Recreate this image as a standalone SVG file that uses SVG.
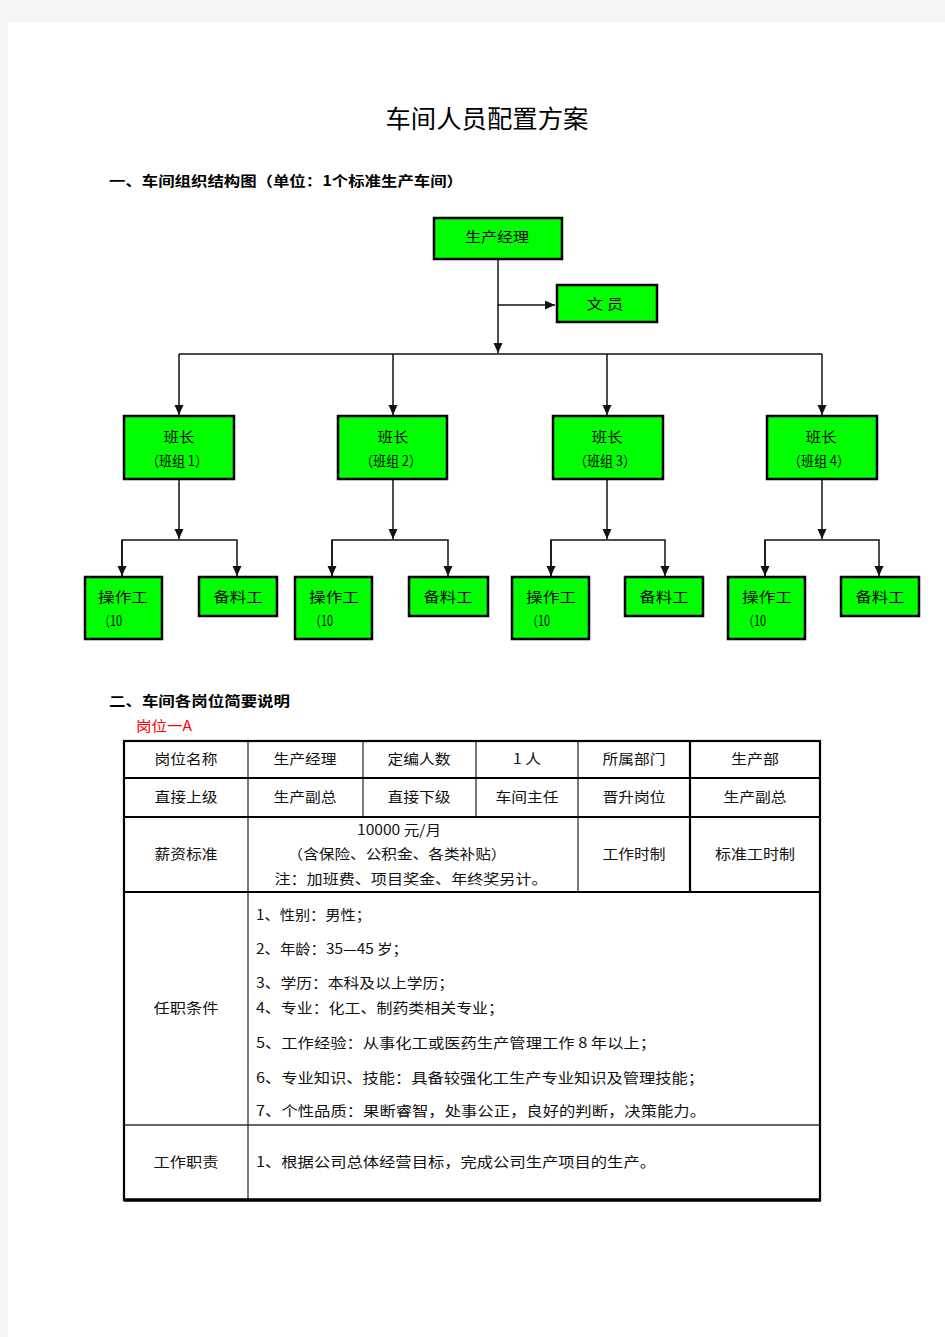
<svg xmlns="http://www.w3.org/2000/svg" width="945" height="1337" viewBox="0 0 945 1337">
<style>
text{font-family:"Noto Sans CJK SC","Liberation Sans",sans-serif;fill:#000}
.box{fill:#00ff00;stroke:#000;stroke-width:2.5}
.nt{font-size:14px;text-anchor:middle}
.ntl{font-size:14px}
.c{fill:none;stroke:#111;stroke-width:1.5}
.h{font-size:14px;font-weight:bold}
.tt{font-size:14px;text-anchor:middle;fill:#111}
.tl{font-size:14px;fill:#111}
.thick{stroke:#000;stroke-width:2.2;fill:none}
.thin{stroke:#333;stroke-width:1.3;fill:none}
</style>
<defs>
<marker id="ah" markerUnits="userSpaceOnUse" markerWidth="10" markerHeight="10" refX="10" refY="4.5" orient="auto">
<path d="M0,0 L10,4.5 L0,9 z" fill="#111"/>
</marker>
</defs>
<rect x="0" y="0" width="945" height="1337" fill="#f4f4f4"/>
<rect x="8" y="22" width="937" height="1315" fill="#fff"/>

<text x="487" y="128" font-size="25" text-anchor="middle" textLength="203" lengthAdjust="spacingAndGlyphs">车间人员配置方案</text>
<text class="h" x="109" y="186" textLength="354" lengthAdjust="spacingAndGlyphs">一、车间组织结构图（单位：1个标准生产车间）</text>

<g id="connectors">
<path class="c" d="M498,260 V353" marker-end="url(#ah)"/>
<path class="c" d="M498,305 H555" marker-end="url(#ah)"/>
<path class="c" d="M179,354 H822"/>
<path class="c" d="M179,354 V415" marker-end="url(#ah)"/>
<path class="c" d="M393,354 V415" marker-end="url(#ah)"/>
<path class="c" d="M607,354 V415" marker-end="url(#ah)"/>
<path class="c" d="M822,354 V415" marker-end="url(#ah)"/>
<path class="c" d="M179,479 V539" marker-end="url(#ah)"/>
<path class="c" d="M393,479 V539" marker-end="url(#ah)"/>
<path class="c" d="M607,479 V539" marker-end="url(#ah)"/>
<path class="c" d="M822,479 V539" marker-end="url(#ah)"/>
<path class="c" d="M122,576 V540 H237 V576" marker-end="url(#ah)"/>
<path class="c" d="M122,540 V576" marker-end="url(#ah)"/>
<path class="c" d="M332,576 V540 H448 V576" marker-end="url(#ah)"/>
<path class="c" d="M332,540 V576" marker-end="url(#ah)"/>
<path class="c" d="M551,576 V540 H665 V576" marker-end="url(#ah)"/>
<path class="c" d="M551,540 V576" marker-end="url(#ah)"/>
<path class="c" d="M765,576 V540 H879 V576" marker-end="url(#ah)"/>
<path class="c" d="M765,540 V576" marker-end="url(#ah)"/>
</g>

<g id="n-manager"><rect class="box" x="434" y="218" width="128" height="41"/><text class="nt" x="497" y="242" textLength="64" lengthAdjust="spacingAndGlyphs">生产经理</text></g>
<g id="n-clerk"><rect class="box" x="557" y="285" width="100" height="37"/><text class="nt" x="605" y="309" textLength="37" lengthAdjust="spacingAndGlyphs">文 员</text></g>

<g id="n-lead1"><rect class="box" x="124" y="416" width="110" height="63"/><text class="nt" x="179" y="442" textLength="31" lengthAdjust="spacingAndGlyphs">班长</text><text class="nt" x="177" y="466" textLength="62" lengthAdjust="spacingAndGlyphs">（班组 1）</text></g>
<g id="n-lead2"><rect class="box" x="338" y="416" width="109" height="63"/><text class="nt" x="393" y="442" textLength="31" lengthAdjust="spacingAndGlyphs">班长</text><text class="nt" x="391" y="466" textLength="62" lengthAdjust="spacingAndGlyphs">（班组 2）</text></g>
<g id="n-lead3"><rect class="box" x="553" y="416" width="110" height="63"/><text class="nt" x="607" y="442" textLength="31" lengthAdjust="spacingAndGlyphs">班长</text><text class="nt" x="605" y="466" textLength="62" lengthAdjust="spacingAndGlyphs">（班组 3）</text></g>
<g id="n-lead4"><rect class="box" x="767" y="416" width="110" height="63"/><text class="nt" x="821" y="442" textLength="31" lengthAdjust="spacingAndGlyphs">班长</text><text class="nt" x="819" y="466" textLength="62" lengthAdjust="spacingAndGlyphs">（班组 4）</text></g>

<g id="n-op1"><rect class="box" x="85" y="577" width="77" height="62"/><text class="ntl" x="98" y="602" textLength="50" lengthAdjust="spacingAndGlyphs">操作工</text><text class="ntl" x="99" y="626" textLength="23" lengthAdjust="spacingAndGlyphs">（10</text></g>
<g id="n-mat1"><rect class="box" x="199" y="577" width="78" height="39"/><text class="nt" x="238" y="602" textLength="49" lengthAdjust="spacingAndGlyphs">备料工</text></g>
<g id="n-op2"><rect class="box" x="295" y="577" width="77" height="62"/><text class="ntl" x="309" y="602" textLength="50" lengthAdjust="spacingAndGlyphs">操作工</text><text class="ntl" x="310" y="626" textLength="23" lengthAdjust="spacingAndGlyphs">（10</text></g>
<g id="n-mat2"><rect class="box" x="409" y="577" width="79" height="39"/><text class="nt" x="448" y="602" textLength="49" lengthAdjust="spacingAndGlyphs">备料工</text></g>
<g id="n-op3"><rect class="box" x="512" y="577" width="77" height="62"/><text class="ntl" x="526" y="602" textLength="50" lengthAdjust="spacingAndGlyphs">操作工</text><text class="ntl" x="527" y="626" textLength="23" lengthAdjust="spacingAndGlyphs">（10</text></g>
<g id="n-mat3"><rect class="box" x="625" y="577" width="78" height="39"/><text class="nt" x="664" y="602" textLength="49" lengthAdjust="spacingAndGlyphs">备料工</text></g>
<g id="n-op4"><rect class="box" x="728" y="577" width="77" height="62"/><text class="ntl" x="742" y="602" textLength="50" lengthAdjust="spacingAndGlyphs">操作工</text><text class="ntl" x="743" y="626" textLength="23" lengthAdjust="spacingAndGlyphs">（10</text></g>
<g id="n-mat4"><rect class="box" x="841" y="577" width="78" height="39"/><text class="nt" x="880" y="602" textLength="49" lengthAdjust="spacingAndGlyphs">备料工</text></g>

<text class="h" x="109" y="706" textLength="181" lengthAdjust="spacingAndGlyphs">二、车间各岗位简要说明</text>
<text x="136" y="731" font-size="14" fill="#ff0000" style="fill:#ff0000" textLength="56" lengthAdjust="spacingAndGlyphs">岗位一A</text>

<g id="table">
<path class="thin" d="M363,741 V817 M476,741 V817 M578,741 V892 M248,741 V1200"/>
<path class="thin" d="M124,1125 H820"/>
<path class="thick" d="M124,778 H820 M124,817 H820 M124,892 H820 M690,741 V892"/>
<rect class="thick" x="124" y="741" width="696" height="459"/>
<path d="M124,1200 H821" stroke="#000" stroke-width="3.5"/>

<text class="tt" x="186" y="764" textLength="63" lengthAdjust="spacingAndGlyphs">岗位名称</text>
<text class="tt" x="305" y="764" textLength="63" lengthAdjust="spacingAndGlyphs">生产经理</text>
<text class="tt" x="419" y="764" textLength="63" lengthAdjust="spacingAndGlyphs">定编人数</text>
<text class="tt" x="527" y="764" textLength="28" lengthAdjust="spacingAndGlyphs">1 人</text>
<text class="tt" x="634" y="764" textLength="63" lengthAdjust="spacingAndGlyphs">所属部门</text>
<text class="tt" x="755" y="764" textLength="48" lengthAdjust="spacingAndGlyphs">生产部</text>

<text class="tt" x="186" y="802" textLength="63" lengthAdjust="spacingAndGlyphs">直接上级</text>
<text class="tt" x="305" y="802" textLength="63" lengthAdjust="spacingAndGlyphs">生产副总</text>
<text class="tt" x="419" y="802" textLength="63" lengthAdjust="spacingAndGlyphs">直接下级</text>
<text class="tt" x="527" y="802" textLength="63" lengthAdjust="spacingAndGlyphs">车间主任</text>
<text class="tt" x="634" y="802" textLength="63" lengthAdjust="spacingAndGlyphs">晋升岗位</text>
<text class="tt" x="755" y="802" textLength="63" lengthAdjust="spacingAndGlyphs">生产副总</text>

<text class="tt" x="186" y="859" textLength="63" lengthAdjust="spacingAndGlyphs">薪资标准</text>
<text class="tt" x="399" y="835" textLength="84" lengthAdjust="spacingAndGlyphs">10000 元/月</text>
<text class="tt" x="397" y="859" textLength="219" lengthAdjust="spacingAndGlyphs">（含保险、公积金、各类补贴）</text>
<text class="tt" x="411" y="884" textLength="273" lengthAdjust="spacingAndGlyphs">注：加班费、项目奖金、年终奖另计。</text>
<text class="tt" x="634" y="859" textLength="63" lengthAdjust="spacingAndGlyphs">工作时制</text>
<text class="tt" x="755" y="859" textLength="80" lengthAdjust="spacingAndGlyphs">标准工时制</text>

<text class="tt" x="186" y="1013" textLength="65" lengthAdjust="spacingAndGlyphs">任职条件</text>
<text class="tl" x="256" y="920" textLength="115" lengthAdjust="spacingAndGlyphs">1、性别：男性；</text>
<text class="tl" x="256" y="954" textLength="152" lengthAdjust="spacingAndGlyphs">2、年龄：35—45 岁；</text>
<text class="tl" x="256" y="988" textLength="198" lengthAdjust="spacingAndGlyphs">3、学历：本科及以上学历；</text>
<text class="tl" x="256" y="1013" textLength="248" lengthAdjust="spacingAndGlyphs">4、专业：化工、制药类相关专业；</text>
<text class="tl" x="256" y="1048" textLength="400" lengthAdjust="spacingAndGlyphs">5、工作经验：从事化工或医药生产管理工作 8 年以上；</text>
<text class="tl" x="256" y="1083" textLength="448" lengthAdjust="spacingAndGlyphs">6、专业知识、技能：具备较强化工生产专业知识及管理技能；</text>
<text class="tl" x="256" y="1116" textLength="450" lengthAdjust="spacingAndGlyphs">7、个性品质：果断睿智，处事公正，良好的判断，决策能力。</text>

<text class="tt" x="186" y="1167" textLength="65" lengthAdjust="spacingAndGlyphs">工作职责</text>
<text class="tl" x="256" y="1167" textLength="400" lengthAdjust="spacingAndGlyphs">1、根据公司总体经营目标，完成公司生产项目的生产。</text>
</g>
</svg>
